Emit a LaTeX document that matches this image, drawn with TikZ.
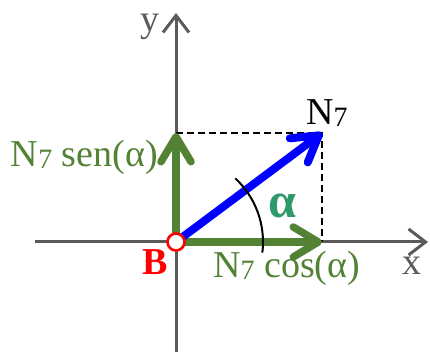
\documentclass[tikz,border=0pt]{standalone}
\usepackage{fontspec}
\setmainfont{Liberation Serif}
\usetikzlibrary{arrows.meta}
\definecolor{axisgray}{HTML}{5A5A5A}
\definecolor{compgreen}{HTML}{548235}
\definecolor{anglegreen}{HTML}{2E9A6A}
\newcommand{\Nsev}{N\raisebox{-0.05em}{\fontsize{28}{28}\selectfont 7}}

\begin{document}
\begin{tikzpicture}[
        x=1pt, y=1pt,
        axis/.style={
            draw=axisgray,
            line width=3pt,
            -{Straight Barb[length=17pt,width=26pt,line width=3pt]}
        },
        comp/.style={
            draw=compgreen,
            line width=7.5pt,
            -{Straight Barb[round,length=25pt,width=30pt]}
        },
        force/.style={
            draw=blue,
            line width=8pt,
            -{Straight Barb[round,length=25pt,width=30pt]}
        },
        guide/.style={
            draw=black,
            line width=2pt,
            dash pattern=on 7pt off 4pt
        },
        lbl/.style={
            inner sep=0pt,
            font=\fontsize{38}{38}\selectfont
        }
    ]
    \useasboundingbox (0,0) rectangle (430,352);

    \coordinate (B) at (176,110);
    \coordinate (N) at (322,219);
    \coordinate (Nx) at (322,110);
    \coordinate (Ny) at (176,219);

    % axes
    \coordinate (xl) at (35,110);
    \coordinate (xr) at (428,110);
    \coordinate (yb) at (176,0);
    \coordinate (yt) at (176,339);
    \draw[axis] (xl) -- (xr);
    \draw[axis] (yb) -- (yt);
    \node[lbl, text=axisgray, anchor=base west] (xlab) at (402,77) {x};
    \node[lbl, text=axisgray, anchor=base east] (ylab) at (160,320) {y};

    % projections
    \draw[guide] (Ny) -- (N) -- (Nx);

    \draw[comp] (B) -- (Nx);
    \draw[comp] (B) -- (Ny);
    \draw[force] (B) -- (N);

    \draw[black, line width=2pt] ([shift={(-7:87)}]B) arc[start angle=-7, end angle=47, radius=87];
    \node[lbl, text=anglegreen, font=\fontsize{50}{50}\selectfont\bfseries] (alpha) at (282,146) {α};

    \node[lbl, anchor=base west] (Nlab) at (306,227) {\Nsev};
    \node[lbl, text=compgreen, anchor=base east] (senlab) at (158,185) {\Nsev\ sen(α)};
    \node[lbl, text=compgreen, anchor=base west] (coslab) at (213,74) {\Nsev\ cos(α)};

    \node[lbl, text=red, font=\fontsize{38}{38}\selectfont\bfseries, anchor=base east] (Blab) at (168,77) {B};
    \draw[red, fill=white, line width=2.6pt] (B) circle[radius=8.5];
\end{tikzpicture}
\end{document}
